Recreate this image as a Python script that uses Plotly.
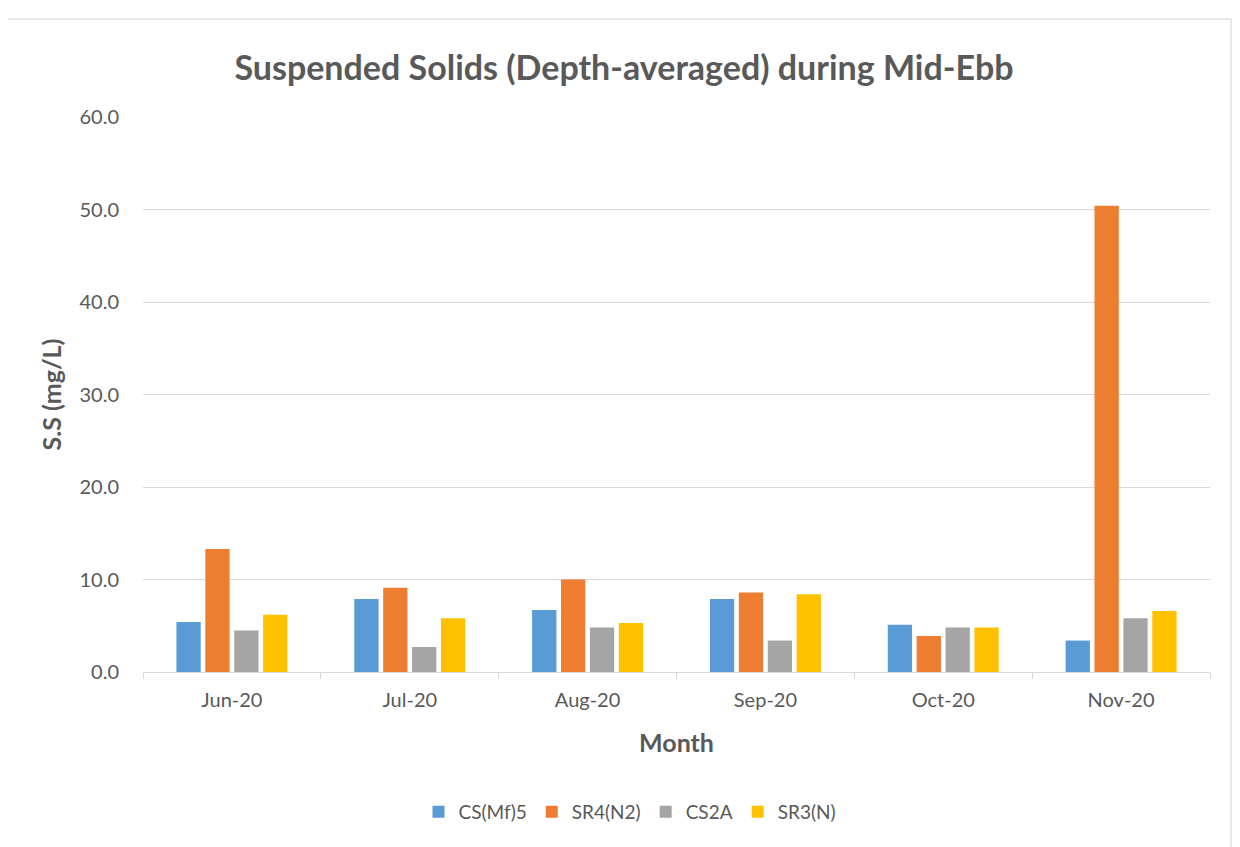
import plotly.graph_objects as go

months = ["Jun-20", "Jul-20", "Aug-20", "Sep-20", "Oct-20", "Nov-20"]
cs_mf5 = [5.4, 7.9, 6.7, 7.9, 5.1, 3.4]
sr4_n2 = [13.3, 9.1, 10.0, 8.6, 3.9, 50.4]
cs2a = [4.5, 2.7, 4.8, 3.4, 4.8, 5.8]
sr3_n = [6.2, 5.8, 5.3, 8.4, 4.8, 6.6]

series = [
    ("CS(Mf)5", cs_mf5, "#5B9BD5"),
    ("SR4(N2)", sr4_n2, "#ED7D31"),
    ("CS2A", cs2a, "#A5A5A5"),
    ("SR3(N)", sr3_n, "#FFC000"),
]

GRID = "#D9D9D9"
TEXT = "#595959"
FONT = "Lato, Open Sans, sans-serif"

fig = go.Figure()
for name, vals, color in series:
    fig.add_trace(go.Bar(x=months, y=vals, name=name, marker=dict(color=color, line=dict(width=0))))

# page has an 8px body margin, so the figure is 8px smaller than the window
W, H = 1232, 839
L, R, T, B = 135, 30, 109, 175
pw, ph = W - L - R, H - T - B


def px(x):
    return (x - L) / pw


def py(y):
    return (H - B - y) / ph


fig.update_layout(
    width=W,
    height=H,
    paper_bgcolor="white",
    plot_bgcolor="white",
    margin=dict(l=L, r=R, t=T, b=B, autoexpand=False),
    font=dict(family=FONT, color=TEXT),
    barmode="group",
    bargap=0.35,
    bargroupgap=0.16,
    title=dict(
        text="<b>Suspended Solids (Depth-averaged) during Mid-Ebb</b>",
        x=0.5, xanchor="center", y=1 - 60 / H, yanchor="middle",
        font=dict(size=34, color=TEXT, family=FONT),
    ),
    xaxis=dict(
        title=dict(text="<b>Month</b>", font=dict(size=25, color=TEXT), standoff=24),
        tickfont=dict(size=20, color=TEXT), tickangle=0,
        showline=True, linecolor=GRID, linewidth=1,
        ticks="outside", tickson="boundaries", ticklen=6, tickcolor=GRID,
        ticklabelstandoff=10,
        showgrid=False,
    ),
    yaxis=dict(
        title=dict(text="<b>S.S (mg/L)</b>", font=dict(size=25, color=TEXT), standoff=10),
        range=[0, 60], dtick=10, tickformat=".1f",
        tickfont=dict(size=20, color=TEXT),
        gridcolor=GRID, gridwidth=1, zeroline=False,
        showline=False, ticklen=0, ticklabelstandoff=23,
    ),
    legend=dict(
        orientation="h", x=px(622), xanchor="center",
        y=py(804), yanchor="middle",
        font=dict(size=19, color=TEXT), traceorder="normal",
    ),
    shapes=[
        dict(type="rect", xref="paper", yref="paper",
             x0=px(-3), x1=px(1223), y0=py(845), y1=py(11),
             line=dict(color="#D0D0D0", width=1), fillcolor="rgba(0,0,0,0)", layer="below"),
    ],
)

fig.write_html("out.html")
